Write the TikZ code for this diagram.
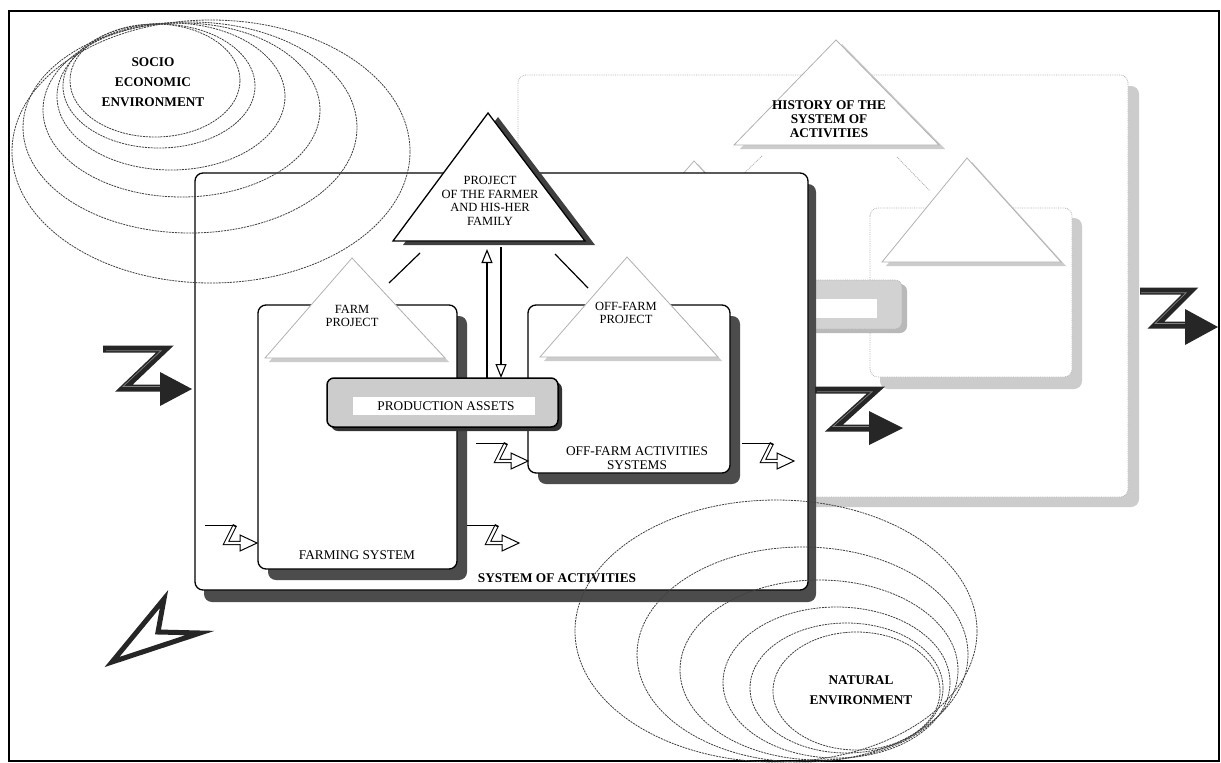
\documentclass[tikz,border=0pt]{standalone}
\usepackage{fontspec}
\setmainfont{Liberation Serif}
\usetikzlibrary{arrows.meta}
\tikzset{
  ell/.style={draw=black!75, line width=0.8pt, dash pattern=on 2pt off 0.9pt},
  darkshadow/.style={fill=black!70, draw=none, rounded corners=8pt},
  lightshadow/.style={fill=gray!40, draw=none, rounded corners=8pt},
  boxline/.style={draw=black, line width=1.3pt, fill=white, rounded corners=8pt},
  faintline/.style={draw=gray!60, line width=0.9pt, densely dotted},
  ghostbox/.style={draw=gray!60, line width=0.8pt, densely dotted, fill=white, rounded corners=8pt},
  lighttri/.style={draw=gray!60, line width=0.8pt, fill=white},
  trishadow/.style={fill=gray!40, draw=none},
  bigz/.style={draw=black!85, line width=7pt, line join=miter, line cap=butt},
  bevel/.style={draw=black!50, line width=0.7pt, line join=miter},
  bigzhead/.style={fill=black!85, draw=none},
  lblB/.style={font=\fontsize{13.3}{20}\selectfont\bfseries, align=center, inner sep=0pt},
  lblH/.style={font=\fontsize{13.3}{13.8}\selectfont\bfseries, align=center, inner sep=0pt},
  lbl/.style={font=\fontsize{13.3}{14}\selectfont, align=center, inner sep=0pt},
  lblT/.style={font=\fontsize{12.5}{13.6}\selectfont, align=center, inner sep=0pt},
  vlink/.style={line width=1.1pt, -{Triangle[length=14pt, width=11pt, fill=white]}}
}
\newcommand{\smallzarrow}[2]{%
  \begin{scope}[shift={(#1,#2)}]
    \draw[line width=1pt] (0,0) -- (30,0);
    \draw[line width=4.4pt, line join=miter] (30,0) -- (21,18) -- (37,18);
    \draw[line width=2.4pt, white, line join=miter] (29.2,1.6) -- (21,18) -- (37,18);
    \draw[line width=1pt, fill=white, line join=miter] (35,10) -- (52,18) -- (35,26) -- cycle;
    \draw[line width=2.4pt, white] (31,18) -- (37,18);
  \end{scope}}
\begin{document}
\begin{tikzpicture}[x=1pt,y=-1pt]
\useasboundingbox (0,0) rectangle (1221,763);
\fill[white] (0,0) rectangle (1221,763);
\draw[line width=1.3pt] (9,11) rectangle (1219,761);

% ---------- back system (history) ----------
\fill[lightshadow] (528,86) rectangle (1139,507);
\draw[ghostbox] (518,75) rectangle (1128,497);
\fill[trishadow] (740,149) -- (842,44) -- (945,149) -- cycle;
\draw[lighttri] (734,145) -- (836,40) -- (939,145) -- cycle;
\node[lblH] (history) at (829,119) {HISTORY OF THE\\SYSTEM OF\\ACTIVITIES};
\draw[faintline] (762,156) -- (731,186);
\draw[faintline] (897,157) -- (930,191);
\fill[trishadow] (611,264) -- (698,164) -- (791,264) -- cycle;
\draw[lighttri] (607,261) -- (694,161) -- (787,261) -- cycle;
\fill[lightshadow] (880,218) rectangle (1082,389);
\draw[ghostbox] (870,208) rectangle (1072,377);
\fill[trishadow] (886,266) -- (972,162) -- (1066,266) -- cycle;
\draw[lighttri] (882,262) -- (967,158) -- (1061,262) -- cycle;
\fill[gray!55, rounded corners=7pt] (674,284) rectangle (907,333);
\draw[fill=gray!35, draw=gray!60, densely dotted, line width=0.8pt, rounded corners=7pt] (669,280) rectangle (902,329);
\fill[white] (695,299) rectangle (877,318);

% right Z arrow
\draw[bigz] (1140,291) -- (1190,291) -- (1156,325) -- (1188,325);
\draw[bevel] (1141,292.8) -- (1186,292.8) -- (1155,323.5) -- (1186,323.5);
\fill[bigzhead] (1185,309) -- (1218,327) -- (1185,345) -- cycle;

% ---------- system of activities ----------
\fill[darkshadow] (204,184) rectangle (816,602);
\draw[boxline] (195,173) rectangle (808,590);

% farming system box
\fill[darkshadow] (268,316) rectangle (467,580);
\draw[boxline] (258,305) rectangle (457,569);
% off-farm box
\fill[darkshadow] (538,316) rectangle (740,484);
\draw[boxline] (528,305) rectangle (730,473);

% sub project triangles
\fill[trishadow] (269,362) -- (356,262) -- (449,362) -- cycle;
\draw[lighttri] (265,358) -- (352,258) -- (445,358) -- cycle;
\fill[trishadow] (544,361) -- (631,261) -- (722,361) -- cycle;
\draw[lighttri] (540,357) -- (627,257) -- (718,357) -- cycle;

% project of the farmer
\fill[black!75] (403,245) -- (498,117) -- (595,245) -- cycle;
\draw[line width=1.3pt, fill=white, line join=miter] (393,241) -- (488,113) -- (585,241) -- cycle;
\draw[line width=1.2pt] (420,253) -- (389,283);
\draw[line width=1.2pt] (555,254) -- (588,288);

% production assets bar
\fill[black!80, rounded corners=7pt] (331,382) rectangle (562,431);
\draw[fill=gray!40, draw=black, line width=1.5pt, rounded corners=7pt] (327,378) rectangle (558,427);
\fill[white] (353,397) rectangle (535,415);

% vertical links
\coordinate (upS) at (487,378);
\coordinate (upE) at (487,249);
\coordinate (dnS) at (501,247);
\coordinate (dnE) at (501,378);
\draw[vlink] (upS) -- (upE);
\draw[vlink] (dnS) -- (dnE);

% small z arrows
\smallzarrow{205}{525}
\smallzarrow{467}{525}
\smallzarrow{476}{443}
\smallzarrow{742}{443}

% big Z arrows
\draw[bigz] (103,349) -- (165,349) -- (124,388) -- (162,388);
\draw[bevel] (106,350.8) -- (161,350.8) -- (123,386.5) -- (160,386.5);
\fill[bigzhead] (160,372) -- (192,389) -- (160,406) -- cycle;
\draw[bigz] (815,390) -- (876,390) -- (834,428) -- (872,428);
\draw[bevel] (817,391.8) -- (872,391.8) -- (833,426.5) -- (870,426.5);
\fill[bigzhead] (869,411) -- (903,428) -- (869,445) -- cycle;

% chevron bottom left
\draw[line width=5pt, draw=black!85, fill=white, line join=miter] (164,599) -- (158,632) -- (200,633) -- (112,662) -- cycle;

% labels
\node[lblB] (socio) at (153,82) {SOCIO\\ECONOMIC\\ENVIRONMENT};
\node[lblB] (natural) at (861,690) {NATURAL\\ENVIRONMENT};
\node[lblT] (proj) at (490,201) {PROJECT\\OF THE FARMER\\AND HIS-HER\\FAMILY};
\node[lblT] (farmproj) at (352,316) {FARM\\PROJECT};
\node[lblT] (offproj) at (626,313) {OFF-FARM\\PROJECT};
\node[lbl] (assets) at (446,406) {PRODUCTION ASSETS};
\node[lbl] (offsys) at (637,458) {OFF-FARM ACTIVITIES\\SYSTEMS};
\node[lbl] (farmsys) at (357,555) {FARMING SYSTEM};
\node[lblB, font=\fontsize{13.3}{14}\selectfont\bfseries] (sysact) at (557,578) {SYSTEM OF ACTIVITIES};

% environments (dashed ellipses)
\draw[ell] (155,80.5) ellipse [x radius=85pt, y radius=56.5pt];
\draw[ell] (159,86) ellipse [x radius=96pt, y radius=62pt];
\draw[ell] (171,96.5) ellipse [x radius=114pt, y radius=73.5pt];
\draw[ell] (181.5,110) ellipse [x radius=138.5pt, y radius=87pt];
\draw[ell] (190,127.5) ellipse [x radius=167pt, y radius=105.5pt];
\draw[ell] (211,151.5) ellipse [x radius=199pt, y radius=131.5pt];

\draw[ell] (776,631) ellipse [x radius=201pt, y radius=131pt];
\draw[ell] (802.5,654.5) ellipse [x radius=165.5pt, y radius=107.5pt];
\draw[ell] (819,670) ellipse [x radius=139pt, y radius=90pt];
\draw[ell] (836.5,682.5) ellipse [x radius=113.5pt, y radius=75.5pt];
\draw[ell] (846.5,688) ellipse [x radius=96.5pt, y radius=65pt];
\draw[ell] (856.5,691) ellipse [x radius=83.5pt, y radius=59pt];
\end{tikzpicture}
\end{document}
